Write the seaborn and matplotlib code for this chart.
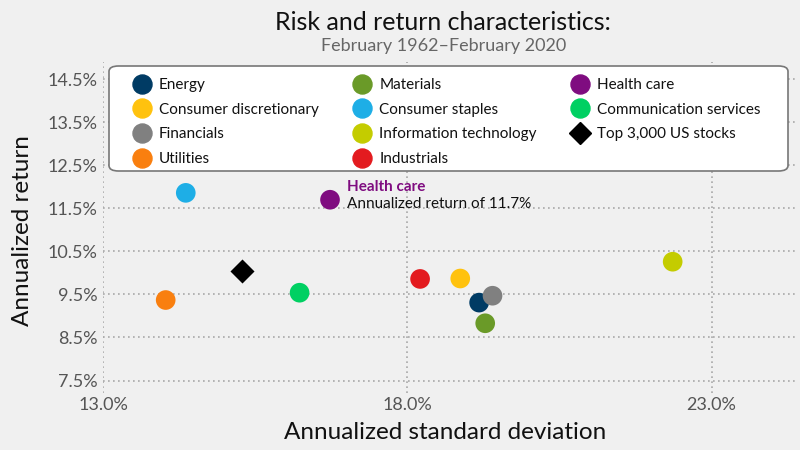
import pandas as pd
import seaborn as sns
import matplotlib.pyplot as plt
from matplotlib.lines import Line2D
from matplotlib.patches import FancyBboxPatch

# --- data ---
sectors = ["Energy", "Consumer discretionary", "Financials", "Utilities",
           "Materials", "Consumer staples", "Information technology", "Industrials",
           "Health care", "Communication services", "Top 3,000 US stocks"]
std_dev = [19.18, 18.87, 19.40, 14.03, 19.28, 14.36, 22.36, 18.21, 16.73, 16.23, 15.29]
ann_return = [9.31, 9.87, 9.47, 9.37, 8.83, 11.86, 10.26, 9.86, 11.70, 9.54, 10.05]
colors = ["#003B64", "#FFC20E", "#808080", "#F97F0F", "#6A9A28", "#1EAEE6",
          "#C4CC00", "#E31B1F", "#7F0C80", "#00D062", "#000000"]

x_ticks = [13.0, 18.0, 23.0]
y_ticks = [7.5, 8.5, 9.5, 10.5, 11.5, 12.5, 13.5, 14.5]

df = pd.DataFrame({"Sector": sectors, "Std": std_dev, "Return": ann_return})
palette = dict(zip(sectors, colors))
markers = {s: ("D" if s.startswith("Top") else "o") for s in sectors}

sns.set_theme(style="white")
plt.rcParams["font.family"] = ["Lato", "DejaVu Sans"]
bg = "#F0F0F0"

fig = plt.figure(figsize=(8, 4.5), dpi=100, facecolor=bg)
ax = fig.add_axes([103 / 800, 1 - 393 / 450, 692 / 800, 331 / 450])
ax.set_facecolor(bg)

circles = df[df["Sector"] != "Top 3,000 US stocks"]
stocks = df[df["Sector"] == "Top 3,000 US stocks"]
sns.scatterplot(data=circles, x="Std", y="Return", hue="Sector", palette=palette,
                s=200, linewidth=0, legend=False, ax=ax, zorder=3)
sns.scatterplot(data=stocks, x="Std", y="Return", color="black", marker="D",
                s=150, linewidth=0, legend=False, ax=ax, zorder=3)

# --- axes styling ---
ax.set_xlim(13.0, 24.37)
ax.set_ylim(7.21, 14.9)
ax.set_xticks(x_ticks)
ax.set_xticklabels([f"{v:.1f}%" for v in x_ticks])
ax.set_yticks(y_ticks)
ax.set_yticklabels([f"{v:.1f}%" for v in y_ticks])
ax.tick_params(axis="both", length=0, labelsize=13, labelcolor="#555555")
ax.tick_params(axis="x", pad=3)
ax.tick_params(axis="y", pad=4)
ax.grid(True, linestyle=(0, (1, 2)), color="#A8A8A8", linewidth=1.2)
for sp in ax.spines.values():
    sp.set_visible(False)
ax.set_xlabel("Annualized standard deviation", fontsize=17.5, color="#111111")
ax.set_ylabel("Annualized return", fontsize=17.5, color="#111111")
ax.xaxis.set_label_coords(0.495, -0.088)
ax.yaxis.set_label_coords(-0.101, 0.49)

# --- annotation for health care ---
hc = df[df["Sector"] == "Health care"].iloc[0]
ax.annotate("Health care", (hc["Std"], hc["Return"]), xytext=(12, 9),
            textcoords="offset points", fontsize=11, fontweight="bold",
            color="#7F0C80", va="center")
ax.annotate("Annualized return of 11.7%", (hc["Std"], hc["Return"]), xytext=(12, -3),
            textcoords="offset points", fontsize=11, color="#111111", va="center")

# --- titles ---
fig.text(443 / 800, 1 - 23 / 450, "Risk and return characteristics:", ha="center",
         va="center", fontsize=18, color="#111111")
fig.text(444 / 800, 1 - 46 / 450, "February 1962\u2013February 2020", ha="center",
         va="center", fontsize=13, color="#666666")

# --- legend (box drawn separately) ---
box = FancyBboxPatch((109 / 800, 1 - 171 / 450), 679 / 800, 105 / 450,
                     boxstyle="round,pad=0,rounding_size=0.012",
                     transform=fig.transFigure, facecolor="white",
                     edgecolor="#777777", linewidth=1.2, zorder=4)
fig.patches.append(box)

handles = [Line2D([], [], linestyle="none", marker=markers[s], color=palette[s],
                  markersize=(11 if markers[s] == "D" else 13.7)) for s in sectors]
leg = fig.legend(handles, sectors, ncol=3, loc="upper left",
                 bbox_to_anchor=(133 / 800, 1 - 78 / 450),
                 fontsize=11, frameon=False, handletextpad=0.5, borderpad=0,
                 borderaxespad=0, columnspacing=2.25, labelspacing=0.7,
                 handlelength=1.2)
leg.set_zorder(5)
for t in leg.get_texts():
    t.set_color("#111111")

fig.savefig("out.png", dpi=100, facecolor=bg)
